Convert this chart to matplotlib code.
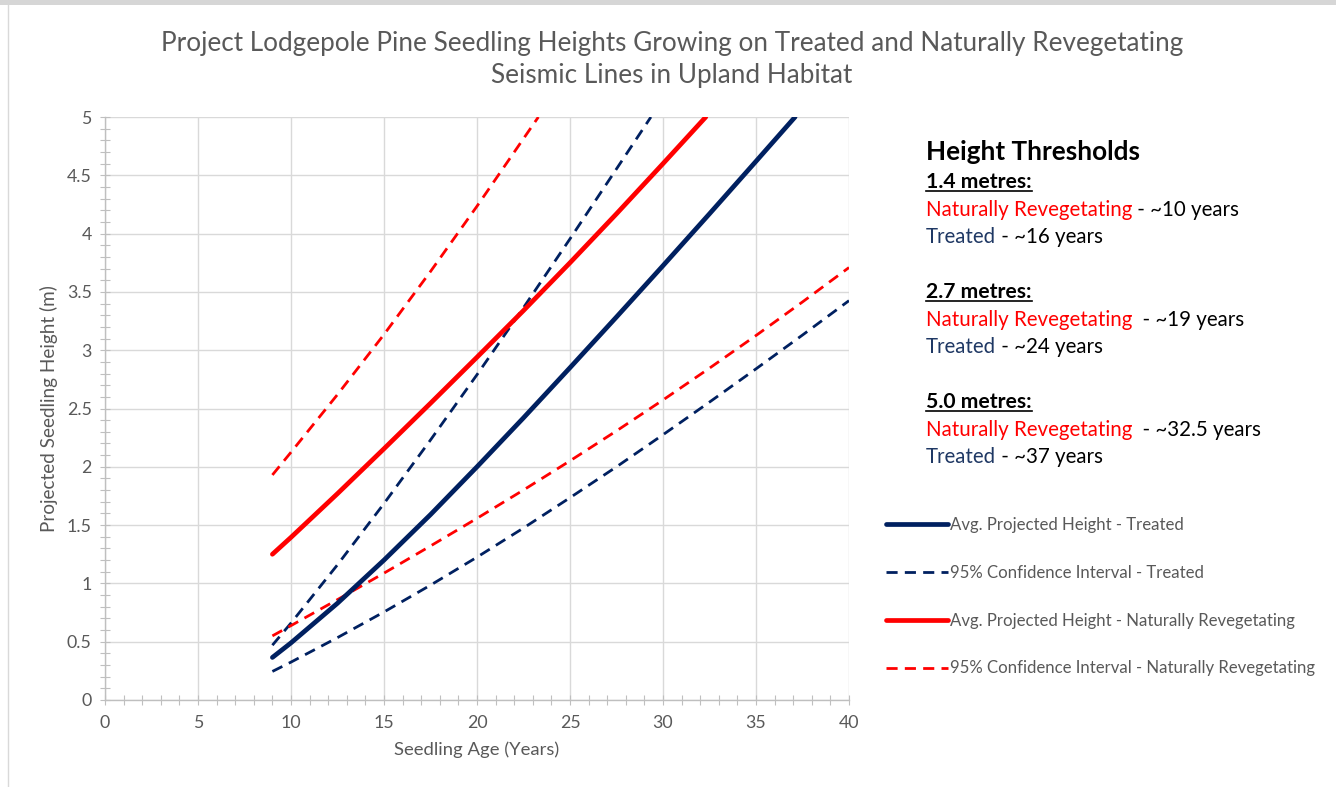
import matplotlib
matplotlib.use("Agg")
import matplotlib.pyplot as plt
from matplotlib.lines import Line2D
from matplotlib.patches import Rectangle
from matplotlib.ticker import MultipleLocator, FuncFormatter

# ---------------- data ----------------
ages_treated = [9, 10, 12.5, 15, 17.5, 20, 22.5, 25, 27.5, 30, 32.5, 35, 37.1]
height_treated = [0.365, 0.49, 0.83, 1.20, 1.59, 2.00, 2.42, 2.85, 3.285,
                  3.725, 4.17, 4.62, 5.00]

ages_natural = [9, 10, 12.5, 15, 17.5, 20, 22.5, 25, 27.5, 30, 32.3]
height_natural = [1.25, 1.395, 1.77, 2.155, 2.545, 2.94, 3.34, 3.75, 4.17,
                  4.60, 5.00]

ages_treated_upper = [9, 10, 12.5, 15, 17.5, 20, 22.5, 25, 27.5, 29.35]
treated_upper = [0.47, 0.66, 1.16, 1.685, 2.23, 2.79, 3.365, 3.955, 4.555, 5.00]

ages_lower = [9, 10, 12.5, 15, 17.5, 20, 22.5, 25, 27.5, 30, 32.5, 35, 37.5, 40]
treated_lower = [0.245, 0.325, 0.535, 0.755, 0.985, 1.225, 1.475, 1.735, 2.00,
                 2.275, 2.555, 2.84, 3.13, 3.425]

ages_natural_upper = [9, 10, 12.5, 15, 17.5, 20, 23.3]
natural_upper = [1.93, 2.125, 2.62, 3.135, 3.675, 4.235, 5.00]

natural_lower = [0.55, 0.638, 0.861, 1.088, 1.321, 1.558, 1.801, 2.051, 2.308,
                 2.573, 2.846, 3.126, 3.414, 3.709]

legend_labels = [
    "Avg. Projected Height - Treated",
    "95% Confidence Interval - Treated",
    "Avg. Projected Height - Naturally Revegetating",
    "95% Confidence Interval - Naturally Revegetating",
]

title_lines = [
    "Project Lodgepole Pine Seedling Heights Growing on Treated and Naturally Revegetating",
    "Seismic Lines in Upland Habitat",
]

thresholds = [
    ("1.4 metres:", " - ~10 years", " - ~16 years"),
    ("2.7 metres:", "  - ~19 years", " - ~24 years"),
    ("5.0 metres:", "  - ~32.5 years", " - ~37 years"),
]

# ---------------- styling ----------------
W, H = 1336, 787
NAVY = "#002060"
RED = "#FF0000"
GRAY_TXT = "#595959"
GRID = "#d9d9d9"
FONT = "Lato"

fig = plt.figure(figsize=(W / 100, H / 100), dpi=100)
fig.patch.set_facecolor("white")
renderer = fig.canvas.get_renderer()


def fit_size(s, target_px, weight="normal"):
    t = fig.text(0, 0, s, fontsize=10, family=FONT, fontweight=weight)
    w = t.get_window_extent(renderer).width
    t.remove()
    return 10 * target_px / w


# frame of the screenshot
fig.add_artist(Rectangle((0, 1 - 5 / H), 1, 5 / H, transform=fig.transFigure,
                         color="#d6d6d6", lw=0))
fig.add_artist(Line2D([8 / W, 8 / W], [0, 1 - 5 / H], transform=fig.transFigure,
                      color="#d9d9d9", lw=1))

ax = fig.add_axes([105 / W, 87 / H, 744 / W, 583 / H])
ax.set_xlim(0, 40)
ax.set_ylim(0, 5)

l1, = ax.plot(ages_treated, height_treated, color=NAVY, lw=3.4,
              solid_capstyle="round", solid_joinstyle="round",
              label=legend_labels[0], zorder=4)
l2, = ax.plot(ages_treated_upper, treated_upper, color=NAVY, lw=2,
              label=legend_labels[1], zorder=3)
l2b, = ax.plot(ages_lower, treated_lower, color=NAVY, lw=2, zorder=3)
l3, = ax.plot(ages_natural, height_natural, color=RED, lw=3.4,
              solid_capstyle="round", solid_joinstyle="round",
              label=legend_labels[2], zorder=4)
l4, = ax.plot(ages_natural_upper, natural_upper, color=RED, lw=2,
              label=legend_labels[3], zorder=3)
l4b, = ax.plot(ages_lower, natural_lower, color=RED, lw=2, zorder=3)
for ln in (l2, l2b, l4, l4b):
    ln.set_dashes((4, 2.6))

ax.xaxis.set_major_locator(MultipleLocator(5))
ax.xaxis.set_minor_locator(MultipleLocator(1))
ax.yaxis.set_major_locator(MultipleLocator(0.5))
ax.yaxis.set_minor_locator(MultipleLocator(0.1))
ax.yaxis.set_major_formatter(FuncFormatter(lambda v, p: f"{v:g}"))
ax.grid(True, which="major", color=GRID, lw=1)
ax.set_axisbelow(True)
for s in ("top", "right"):
    ax.spines[s].set_visible(False)
for s in ("left", "bottom"):
    ax.spines[s].set_color("#bfbfbf")
    ax.spines[s].set_linewidth(1)
ax.tick_params(which="both", direction="inout", color="#bfbfbf", length=7,
               width=0.8)
tick_size = fit_size("4.5", 25)
ax.tick_params(which="major", labelsize=tick_size, labelcolor=GRAY_TXT)
ax.tick_params(axis="x", pad=7)
ax.tick_params(axis="y", pad=6)
for lab in ax.get_xticklabels() + ax.get_yticklabels():
    lab.set_family(FONT)

xl_size = fit_size("Seedling Age (Years)", 165)
ax.set_xlabel("Seedling Age (Years)", fontsize=xl_size, color=GRAY_TXT,
              family=FONT, labelpad=8)
yl_size = fit_size("Projected Seedling Height (m)", 247)
ax.set_ylabel("Projected Seedling Height (m)", fontsize=yl_size,
              color=GRAY_TXT, family=FONT, labelpad=6)

# title
title_size = fit_size(title_lines[0], 1019)
for i, line in enumerate(title_lines):
    fig.text(672 / W, 1 - (43 + 33 * i) / H, line, ha="center", va="center",
             fontsize=title_size, color=GRAY_TXT, family=FONT)

# legend
leg_size = fit_size(legend_labels[0], 234)
leg = ax.legend([l1, l2, l3, l4], legend_labels, loc="upper left",
                bbox_to_anchor=(886 / W, 1 - 517 / H),
                bbox_transform=fig.transFigure, frameon=False,
                labelcolor=GRAY_TXT, handlelength=3.7,
                handletextpad=0.1, labelspacing=1.9, borderpad=0,
                borderaxespad=0, prop={"family": FONT, "size": leg_size})

# threshold annotations
head_size = fit_size("Height Thresholds", 214, weight="bold")
sub_size = fit_size("1.4 metres:", 106, weight="bold")
body_size = fit_size("Naturally Revegetating", 206)
X0 = 926


def put(x_px, base_px, s, color, size, weight="normal"):
    t = fig.text(x_px / W, 1 - base_px / H, s, ha="left", va="baseline",
                 fontsize=size, color=color, family=FONT, fontweight=weight)
    return t, t.get_window_extent(renderer)


put(X0, 160, "Height Thresholds", "black", head_size, "bold")
base = 188
for head, nat_tail, trt_tail in thresholds:
    t, bb = put(X0, base, head, "black", sub_size, "bold")
    yline = (H - base - 3) / H
    fig.add_artist(Line2D([bb.x0 / W, bb.x1 / W], [yline, yline],
                          transform=fig.transFigure, color="black", lw=1.2))
    t, bb = put(X0, base + 28, "Naturally Revegetating", RED, body_size)
    put(bb.x1, base + 28, nat_tail, "black", body_size)
    t, bb = put(X0, base + 55, "Treated", "#1F3864", body_size)
    put(bb.x1, base + 55, trt_tail, "black", body_size)
    base += 110

fig.savefig("out.png", dpi=100, facecolor="white")
